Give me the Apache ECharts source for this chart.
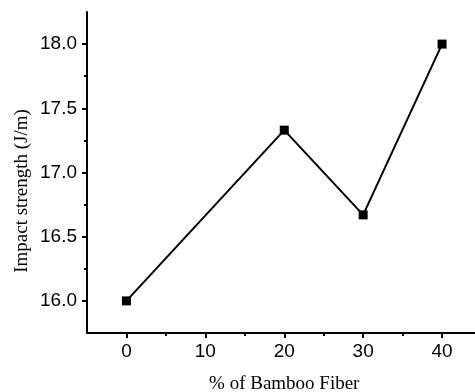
<!DOCTYPE html>
<html><head><meta charset="utf-8">
<script src="https://cdn.jsdelivr.net/npm/echarts@6/dist/echarts.min.js"></script>
<style>html,body{margin:0;padding:0;background:#fff}#c{width:475px;height:392px}</style>
</head><body><div id="c"></div>
<script>
const fiberPercent = [0, 20, 30, 40];
const impactStrength = [16.0, 17.33, 16.67, 18.0];
const xTickLabels = [0, 10, 20, 30, 40];
const xMinorTicks = [5, 15, 25, 35];
const yTickLabels = [16.0, 16.5, 17.0, 17.5, 18.0];
const yMinorTicks = [16.25, 16.75, 17.25, 17.75];

const chart = echarts.init(document.getElementById('c'), null, {renderer: 'canvas'});
const sans = 'Liberation Sans';
const serif = 'Liberation Serif';
const axisLine = {show: true, onZero: false, lineStyle: {color: '#000', width: 2}};
const noLine = {show: false, onZero: false};
chart.setOption({
  animation: false,
  backgroundColor: '#fff',
  grid: {left: 87, top: 12, bottom: 59, right: -6.5, containLabel: false, outerBoundsMode: 'none'},
  xAxis: [{
    type: 'value', min: -5, max: 45, position: 'bottom',
    axisLine: axisLine,
    splitLine: {show: false},
    axisTick: {show: true, inside: false, length: 5, lineStyle: {color: '#000', width: 2}, customValues: xTickLabels},
    axisLabel: {show: true, color: '#000', fontFamily: sans, fontSize: 19, margin: 9, customValues: xTickLabels},
    name: '% of Bamboo Fiber', nameLocation: 'middle', nameGap: 42,
    nameTextStyle: {fontFamily: serif, fontSize: 19, color: '#000'}
  }, {
    type: 'value', min: -5, max: 45, position: 'bottom', offset: 0,
    axisLine: noLine, splitLine: {show: false},
    axisTick: {show: true, inside: false, length: 3, lineStyle: {color: '#000', width: 2}, customValues: xMinorTicks},
    axisLabel: {show: false}
  }],
  yAxis: [{
    type: 'value', min: 15.75, max: 18.25, position: 'left',
    axisLine: axisLine,
    splitLine: {show: false},
    axisTick: {show: true, inside: false, length: 5, lineStyle: {color: '#000', width: 2}, customValues: yTickLabels},
    axisLabel: {show: true, color: '#000', fontFamily: sans, fontSize: 19, margin: 10, customValues: yTickLabels,
      formatter: v => Number(v).toFixed(1)}
  }, {
    type: 'value', min: 15.75, max: 18.25, position: 'left', offset: 0,
    axisLine: noLine, splitLine: {show: false},
    axisTick: {show: true, inside: false, length: 3, lineStyle: {color: '#000', width: 2}, customValues: yMinorTicks},
    axisLabel: {show: false}
  }],
  graphic: [{
    type: 'text', x: 22, y: 191, rotation: Math.PI / 2,
    style: {text: 'Impact strength (J/m)', fontFamily: serif, fontSize: 19, fill: '#000', align: 'center', verticalAlign: 'middle'}
  }],
  series: [{
    type: 'line', xAxisIndex: 0, yAxisIndex: 0,
    data: fiberPercent.map((x, i) => [x, impactStrength[i]]),
    symbol: 'rect', symbolSize: 9, showSymbol: true,
    lineStyle: {color: '#000', width: 2},
    itemStyle: {color: '#000'}
  }]
});
</script></body></html>
